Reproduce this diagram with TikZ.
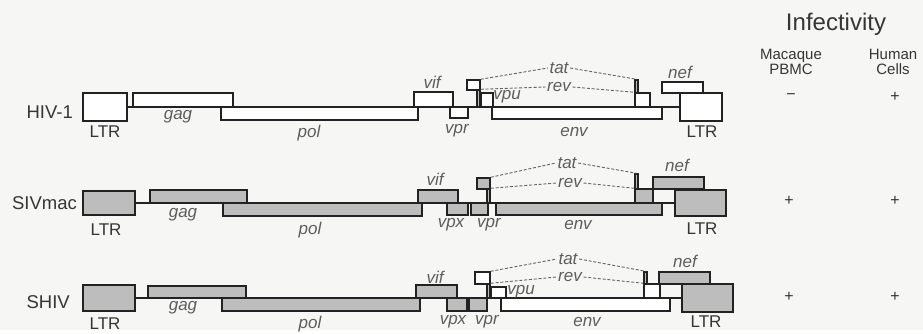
\documentclass[tikz,border=0pt]{standalone}
\usepackage{fontspec}
\setmainfont{Liberation Sans}
\usepackage{tikz}
\usetikzlibrary{fit}
\usepackage{xcolor}
\definecolor{paper}{HTML}{F6F6F4}
\definecolor{geneLine}{HTML}{222222}
\definecolor{geneGray}{HTML}{BDBDBD}
\definecolor{labInk}{HTML}{363636}
\definecolor{geneInk}{HTML}{5E5E5E}
\tikzset{
  genebox/.style={draw=geneLine, line width=1.5pt, inner sep=0pt, fill=white},
  backbone/.style={draw=geneLine, line width=1.5pt},
  splice/.style={draw=geneLine!70, line width=0.9pt, dash pattern=on 3pt off 1.8pt},
  rowlab/.style={font=\fontsize{18.5}{20}\selectfont, text=labInk, anchor=east, inner sep=0pt},
  ltrlab/.style={font=\fontsize{17}{18}\selectfont, text=labInk},
  genelab/.style={font=\fontsize{17}{18}\selectfont\itshape, text=geneInk, inner sep=1.5pt},
  colhead/.style={font=\fontsize{15}{15.5}\selectfont, text=labInk, align=center},
  bighead/.style={font=\fontsize{24}{26}\selectfont, text=labInk},
  score/.style={font=\fontsize{16}{18}\selectfont, text=labInk}
}

\begin{document}
\begin{tikzpicture}[x=1pt,y=-1pt]
  \fill[paper] (0,0) rectangle (923,330);
  % HIV-1
  \node[genebox, fit={(83,93) (127,121)}] (hiv-ltr5) {};
  \node[genebox, fit={(680,93) (722,121)}] (hiv-ltr3) {};
  \draw[backbone] (hiv-ltr5) -- (hiv-ltr3);
  \foreach \n/\xa/\ya/\xb/\yb/\f in {gag/133/93/233/107/white, pol/221/107/418/120/white, vif/414/92/453/107/white, vpr/450/107/468/118/white, tat1/467/80/480/90/white, rev1/477/90/480/107/geneGray, vpu/481/93/493/107/white, env/492/107/662/119/white, tat2/635/80/638/93/geneGray, rev2/635/93/650/107/white, nef/662/82/703/93/white}
    \node[genebox, fill=\f, fit={(\xa,\ya) (\xb,\yb)}] (hiv-\n) {};
  \node[rowlab] (hiv-name) at (73,112) {HIV-1};
  \node[ltrlab] (hiv-ltr5l) at (105,132) {LTR};
  \node[ltrlab] (hiv-ltr3l) at (702,132) {LTR};
  \node[genelab] (hiv-gagl) at (178,117) {gag};
  \node[genelab] (hiv-poll) at (309,133) {pol};
  \node[genelab] (hiv-vifl) at (432,82) {vif};
  \node[genelab] (hiv-vprl) at (457,131) {vpr};
  \node[genelab] (hiv-vpul) at (507,97) {vpu};
  \node[genelab] (hiv-envl) at (574,132) {env};
  \node[genelab] (hiv-nefl) at (680,72) {nef};
  \node[genelab] (hiv-tat) at (559,68) {tat};
  \node[genelab] (hiv-rev) at (559,87) {rev};
  \draw[splice] (hiv-tat1.north east) -- (hiv-tat.west);
  \draw[splice] (hiv-tat.east) -- (hiv-tat2.north);
  \draw[splice] (hiv-rev1.north east) -- (hiv-rev.west);
  \draw[splice] (hiv-rev.east) -- (hiv-rev2.north west);
  % SIVmac
  \node[genebox, fill=geneGray, fit={(83,191) (135,215)}] (siv-ltr5) {};
  \node[genebox, fill=geneGray, fit={(675,190) (726,216)}] (siv-ltr3) {};
  \draw[backbone] (siv-ltr5) -- (siv-ltr3);
  \foreach \n/\xa/\ya/\xb/\yb in {gag/150/190/247/203, pol/223/203/422/216, vif/418/190/458/203, vpx/447/203/468/215, vpr/471/203/488/215, tat1/477/178/490/189, rev1/487/189/490/203, env/496/203/662/215, tat2/635/174/638/189, rev2/635/189/653/203, nef/653/177/704/189}
    \node[genebox, fill=geneGray, fit={(\xa,\ya) (\xb,\yb)}] (siv-\n) {};
  \node[rowlab] (siv-name) at (77,203) {SIVmac};
  \node[ltrlab] (siv-ltr5l) at (106,230) {LTR};
  \node[ltrlab] (siv-ltr3l) at (702,229) {LTR};
  \node[genelab] (siv-gagl) at (183,215) {gag};
  \node[genelab] (siv-poll) at (310,230) {pol};
  \node[genelab] (siv-vifl) at (435,179) {vif};
  \node[genelab] (siv-vpxl) at (451,225) {vpx};
  \node[genelab] (siv-vprl) at (489,225) {vpr};
  \node[genelab] (siv-envl) at (578,225) {env};
  \node[genelab] (siv-nefl) at (677,165) {nef};
  \node[genelab] (siv-tat) at (567,163) {tat};
  \node[genelab] (siv-rev) at (570,183) {rev};
  \draw[splice] (siv-tat1.north east) -- (siv-tat.west);
  \draw[splice] (siv-tat.east) -- (siv-tat2.north);
  \draw[splice] (siv-rev1.north east) -- (siv-rev.west);
  \draw[splice] (siv-rev.east) -- (siv-rev2.north west);
  % SHIV
  \node[genebox, fill=geneGray, fit={(83,285) (135,311)}] (shv-ltr5) {};
  \node[genebox, fill=geneGray, fit={(682,284) (733,312)}] (shv-ltr3) {};
  \draw[backbone] (shv-ltr5) -- (shv-ltr3);
  \foreach \n/\xa/\ya/\xb/\yb/\f in {gag/148/286/246/298/geneGray, pol/222/298/420/311/geneGray, vif/416/285/457/298/geneGray, vpx/447/298/467/311/geneGray, vpr/469/298/487/311/geneGray, tat1/475/272/490/284/white, rev1/487/284/490/298/geneGray, vpu/491/287/506/298/white, env/501/298/670/311/white, tat2/644/272/647/284/geneGray, rev2/644/284/660/298/white, nef/659/272/710/284/geneGray}
    \node[genebox, fill=\f, fit={(\xa,\ya) (\xb,\yb)}] (shv-\n) {};
  \node[rowlab] (shv-name) at (70,302) {SHIV};
  \node[ltrlab] (shv-ltr5l) at (105,324) {LTR};
  \node[ltrlab] (shv-ltr3l) at (706,322) {LTR};
  \node[genelab] (shv-gagl) at (183,308) {gag};
  \node[genelab] (shv-poll) at (310,324) {pol};
  \node[genelab] (shv-vifl) at (435,277) {vif};
  \node[genelab] (shv-vpxl) at (453,322) {vpx};
  \node[genelab] (shv-vprl) at (487,322) {vpr};
  \node[genelab] (shv-vpul) at (521,292) {vpu};
  \node[genelab] (shv-envl) at (587,322) {env};
  \node[genelab] (shv-nefl) at (685,261) {nef};
  \node[genelab] (shv-tat) at (568,259) {tat};
  \node[genelab] (shv-rev) at (570,277) {rev};
  \draw[splice] (shv-tat1.north east) -- (shv-tat.west);
  \draw[splice] (shv-tat.east) -- (shv-tat2.north);
  \draw[splice] (shv-rev1.north east) -- (shv-rev.west);
  \draw[splice] (shv-rev.east) -- (shv-rev2.north west);
  % infectivity
  \node[bighead] (infect) at (836,24) {Infectivity};
  \node[colhead] (macaque) at (791,62) {Macaque\\PBMC};
  \node[colhead] (human) at (893,62) {Human\\Cells};
  \node[score] (hiv-mac) at (791,97) {−};
  \node[score] (hiv-hum) at (895,97) {+};
  \node[score] (siv-mac) at (789,201) {+};
  \node[score] (siv-hum) at (895,201) {+};
  \node[score] (shv-mac) at (789,297) {+};
  \node[score] (shv-hum) at (895,297) {+};
\end{tikzpicture}
\end{document}
